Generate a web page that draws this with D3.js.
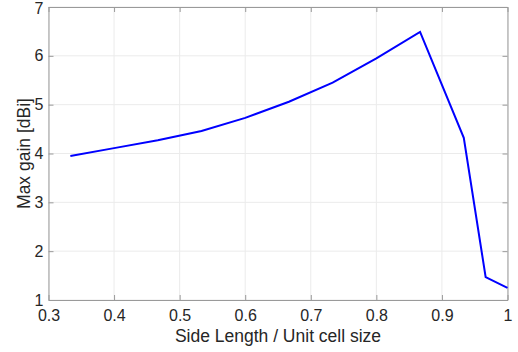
<!DOCTYPE html>
<html><head><meta charset="utf-8">
<script src="https://cdn.jsdelivr.net/npm/d3@7"></script>
<style>body{margin:0;background:#fff;} text{font-family:"Liberation Sans",Arial,sans-serif;fill:#262626;}</style>
</head><body><svg id="c" width="518" height="352"></svg>
<script>
const xValues = [1/3, 0.4, 7/15, 8/15, 0.6, 2/3, 11/15, 0.8, 13/15, 14/15, 29/30, 1];
const gainValues = [3.95, 4.11, 4.27, 4.46, 4.73, 5.06, 5.45, 5.95, 6.49, 4.32, 1.47, 1.25];
const xTicks = [0.3, 0.4, 0.5, 0.6, 0.7, 0.8, 0.9, 1];
const yTicks = [1, 2, 3, 4, 5, 6, 7];

const svg = d3.select("#c");
const L = 48.5, R = 507.5, T = 7, B = 300;
const x = d3.scaleLinear().domain([0.3, 1]).range([L, R]);
const y = d3.scaleLinear().domain([1, 7]).range([B, T]);

const g = svg.append("g");
g.selectAll(".gx").data(xTicks).enter().append("line")
  .attr("x1", d => x(d)).attr("x2", d => x(d)).attr("y1", T).attr("y2", B)
  .attr("stroke", "#ebebeb").attr("stroke-width", 1);
g.selectAll(".gy").data(yTicks).enter().append("line")
  .attr("y1", d => y(d)).attr("y2", d => y(d)).attr("x1", L).attr("x2", R)
  .attr("stroke", "#ebebeb").attr("stroke-width", 1);

const axCol = "#9a9a9a";
const fmt = d => d3.format("")(d);
const bx = svg.append("g").attr("transform", `translate(0,${B})`)
  .call(d3.axisBottom(x).tickValues(xTicks).tickSizeInner(-5).tickSizeOuter(0).tickPadding(10).tickFormat(fmt));
const ty = svg.append("g").attr("transform", `translate(0,${T})`)
  .call(d3.axisTop(x).tickValues(xTicks).tickSizeInner(-5).tickSizeOuter(0).tickFormat(""));
const ly = svg.append("g").attr("transform", `translate(${L},0)`)
  .call(d3.axisLeft(y).tickValues(yTicks).tickSizeInner(-5).tickSizeOuter(0).tickPadding(5).tickFormat(fmt));
const ry = svg.append("g").attr("transform", `translate(${R},0)`)
  .call(d3.axisRight(y).tickValues(yTicks).tickSizeInner(-5).tickSizeOuter(0).tickFormat(""));
[bx, ty, ly, ry].forEach(a => {
  a.selectAll("path").attr("stroke", axCol);
  a.selectAll("line").attr("stroke", axCol);
  a.selectAll("text").attr("font-size", 16).attr("fill", "#262626")
    .style("font-family", "'Liberation Sans',Arial,sans-serif");
});
// keep top label "7" inside the picture
ly.selectAll(".tick text").filter(d => d === 7).attr("dy", "0.42em");

svg.append("path").datum(xValues.map((v, i) => [v, gainValues[i]]))
  .attr("fill", "none").attr("stroke", "#0000ff").attr("stroke-width", 2)
  .attr("stroke-linejoin", "miter")
  .attr("d", d3.line().x(d => x(d[0])).y(d => y(d[1])));

svg.append("text").attr("x", (L + R) / 2).attr("y", 342).attr("text-anchor", "middle")
  .attr("font-size", 17.5).text("Side Length / Unit cell size");
svg.append("text").attr("transform", `translate(30,${(T + B) / 2}) rotate(-90)`)
  .attr("text-anchor", "middle").attr("font-size", 17.5).text("Max gain [dBi]");
</script></body></html>
